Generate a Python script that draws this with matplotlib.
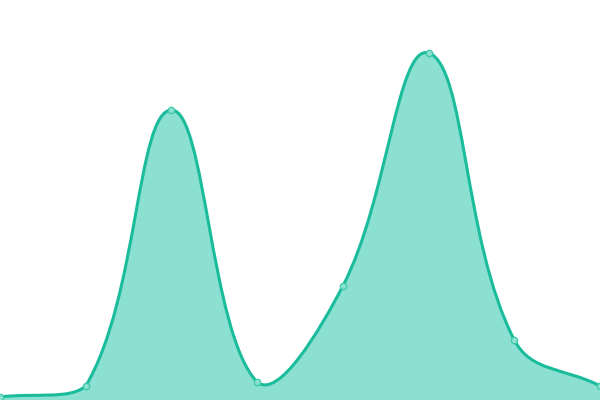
import numpy as np
import matplotlib
matplotlib.use("Agg")
import matplotlib.pyplot as plt
from matplotlib.path import Path
from matplotlib.patches import PathPatch

# data points (x index, value)
xs = [0, 1, 2, 3, 4, 5, 6, 7]
values = [3, 14, 290, 18, 114, 347, 60, 14]

line_color = '#1abc9c'
fill_color = '#8be0d1'
tension = 0.4


def spline_path(ax, x, y, t):
    # bezier spline with control points like chart.js, distances in pixels
    pts = np.column_stack([x, y]).astype(float)
    disp = ax.transData.transform(pts)
    n = len(pts)
    cp_prev = np.zeros_like(pts)
    cp_next = np.zeros_like(pts)
    for i in range(n):
        p = pts[max(i - 1, 0)]
        nx = pts[min(i + 1, n - 1)]
        dp = disp[max(i - 1, 0)]
        dn = disp[min(i + 1, n - 1)]
        d01 = np.hypot(*(disp[i] - dp))
        d12 = np.hypot(*(dn - disp[i]))
        tot = d01 + d12
        s01 = d01 / tot if tot else 0
        s12 = d12 / tot if tot else 0
        cp_prev[i] = pts[i] - t * s01 * (nx - p)
        cp_next[i] = pts[i] + t * s12 * (nx - p)
    ylo, yhi = ax.get_ylim()
    cp_prev[:, 1] = np.clip(cp_prev[:, 1], ylo, yhi)
    cp_next[:, 1] = np.clip(cp_next[:, 1], ylo, yhi)
    verts = [pts[0]]
    codes = [Path.MOVETO]
    for i in range(n - 1):
        verts += [cp_next[i], cp_prev[i + 1], pts[i + 1]]
        codes += [Path.CURVE4] * 3
    return verts, codes


fig = plt.figure(figsize=(6, 4), dpi=100)
ax = fig.add_axes([0, 0, 1, 1])
ax.set_xlim(0, 7)
ax.set_ylim(0, 400)
ax.axis('off')

verts, codes = spline_path(ax, xs, values, tension)
fill_verts = verts + [(xs[-1], 0), (xs[0], 0), verts[0]]
fill_codes = codes + [Path.LINETO, Path.LINETO, Path.CLOSEPOLY]
ax.add_patch(PathPatch(Path(fill_verts, fill_codes), facecolor=fill_color,
                       edgecolor='none'))
ax.add_patch(PathPatch(Path(verts, codes), facecolor='none',
                       edgecolor=line_color, linewidth=2.2))
ax.plot(xs, values, 'o', markersize=4.6, markerfacecolor=fill_color,
        markeredgecolor='#3cc9aa', markeredgewidth=0.9)
fig.savefig('out.png', dpi=100)
